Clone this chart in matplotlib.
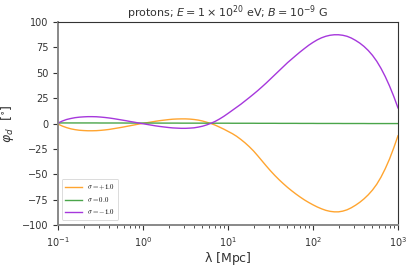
import numpy as np
import matplotlib
matplotlib.use("Agg")
import matplotlib.pyplot as plt

# log10 of lambda [Mpc]
log_lam = [-1.00, -0.95, -0.90, -0.85, -0.80, -0.75, -0.70, -0.65, -0.60, -0.55,
           -0.50, -0.45, -0.40, -0.35, -0.30, -0.25, -0.20, -0.15, -0.10, -0.05,
           0.00, 0.05, 0.10, 0.15, 0.20, 0.25, 0.30, 0.35, 0.40, 0.45,
           0.50, 0.55, 0.60, 0.65, 0.70, 0.75, 0.80, 0.85, 0.90, 0.95,
           1.00, 1.05, 1.10, 1.15, 1.20, 1.25, 1.30, 1.35, 1.40, 1.45,
           1.50, 1.55, 1.60, 1.65, 1.70, 1.75, 1.80, 1.85, 1.90, 1.95,
           2.00, 2.05, 2.10, 2.15, 2.20, 2.25, 2.30, 2.35, 2.40, 2.45,
           2.50, 2.55, 2.60, 2.65, 2.70, 2.75, 2.80, 2.85, 2.90, 2.95, 3.00]

phi_plus = [-0.5, -2.5, -4.0, -5.2, -6.0, -6.6, -6.9, -7.1, -7.1, -7.0,
            -6.7, -6.3, -5.8, -5.1, -4.4, -3.7, -2.9, -2.1, -1.3, -0.5,
            0.2, 0.9, 1.6, 2.3, 2.9, 3.4, 3.9, 4.3, 4.5, 4.6,
            4.6, 4.4, 4.0, 3.4, 2.5, 1.3, 0.0, -1.6, -3.5, -5.5,
            -7.7, -9.9, -12.5, -15.6, -19.0, -22.8, -27.0, -31.8, -36.8, -41.8,
            -46.6, -51.1, -55.3, -59.2, -62.9, -66.3, -69.5, -72.5, -75.3, -77.8,
            -80.1, -82.2, -84.0, -85.5, -86.5, -87.0, -87.0, -86.3, -85.0, -83.0,
            -80.5, -77.6, -74.2, -70.2, -65.5, -59.8, -52.8, -44.5, -35.0, -24.0, -12.0]

phi_zero = [0.6, 0.6, 0.6, 0.6, 0.6, 0.6, 0.6, 0.6, 0.6, 0.6,
            0.55, 0.55, 0.55, 0.55, 0.55, 0.55, 0.5, 0.5, 0.5, 0.5,
            0.5, 0.5, 0.5, 0.45, 0.45, 0.45, 0.45, 0.45, 0.45, 0.4,
            0.4, 0.4, 0.4, 0.4, 0.4, 0.35, 0.35, 0.35, 0.35, 0.35,
            0.35, 0.3, 0.3, 0.3, 0.3, 0.3, 0.3, 0.25, 0.25, 0.25,
            0.25, 0.25, 0.2, 0.2, 0.2, 0.2, 0.2, 0.15, 0.15, 0.15,
            0.15, 0.1, 0.1, 0.1, 0.1, 0.1, 0.1, 0.05, 0.05, 0.05,
            0.05, 0.05, 0.05, 0.0, 0.0, 0.0, 0.0, 0.0, 0.0, 0.0, 0.0]

phi_minus = [0.5, 2.5, 4.0, 5.0, 5.8, 6.3, 6.6, 6.8, 6.8, 6.7,
             6.4, 6.0, 5.5, 4.9, 4.2, 3.5, 2.8, 2.0, 1.3, 0.5,
             -0.2, -0.9, -1.6, -2.3, -2.9, -3.4, -3.9, -4.3, -4.5, -4.7,
             -4.7, -4.5, -4.2, -3.5, -2.6, -1.3, 0.3, 2.2, 4.5, 7.1,
             10.0, 13.0, 16.0, 19.0, 22.3, 25.6, 29.0, 32.5, 36.2, 40.0,
             44.0, 48.0, 52.0, 56.0, 60.0, 63.6, 67.2, 70.7, 74.0, 77.2,
             80.0, 82.5, 84.5, 86.0, 87.0, 87.5, 87.5, 87.0, 86.0, 84.3,
             82.0, 79.3, 76.0, 72.0, 67.2, 61.4, 54.4, 46.3, 37.1, 26.8, 15.4]

labels = [r'$\sigma = +1.0$', r'$\sigma = 0.0$', r'$\sigma = -1.0$']
colors = ['#ffa530', '#4aa54a', '#a638dc']

lam = 10.0 ** np.array(log_lam)

fig = plt.figure(figsize=(4.12, 2.66), dpi=100)
ax = fig.add_axes([0.141, 0.154, 0.825, 0.763])

for series, lab, col in zip([phi_plus, phi_zero, phi_minus], labels, colors):
    ax.plot(lam, series, color=col, lw=1.0, label=lab)

ax.set_xscale('log')
ax.set_xlim(0.1, 1000)
ax.set_ylim(-100, 100)
ax.set_yticks([-100, -75, -50, -25, 0, 25, 50, 75, 100])

for side in ['left', 'bottom']:
    ax.spines[side].set_color('#888888')
    ax.spines[side].set_linewidth(1.4)
for side in ['top', 'right']:
    ax.spines[side].set_color('#333333')
    ax.spines[side].set_linewidth(0.8)

ax.tick_params(which='both', direction='out', top=False, right=False,
               colors='#333333', labelcolor='#333333', labelsize=7)
ax.tick_params(which='major', length=3.5, width=0.8)
ax.tick_params(which='minor', length=2, width=0.6)

ax.set_xlabel(r'$\mathrm{\lambda}$ [Mpc]', fontsize=9, color='#333333', labelpad=1)
ax.set_ylabel(r'$\varphi_d$  [$^{\circ}$]', fontsize=9, color='#333333', labelpad=4)
ax.set_title(r'protons; $E = 1 \times 10^{20}$ eV; $B = 10^{-9}$ G',
             fontsize=8, color='#333333', pad=3)

leg = ax.legend(loc='lower left', prop={'size': 5, 'math_fontfamily': 'cm'},
                frameon=True, handlelength=2.4, borderpad=0.5, labelspacing=0.45,
                bbox_to_anchor=(0.0, 0.01))
leg.get_frame().set_edgecolor('#cccccc')
leg.get_frame().set_linewidth(0.6)

fig.savefig('out.png', dpi=100)
